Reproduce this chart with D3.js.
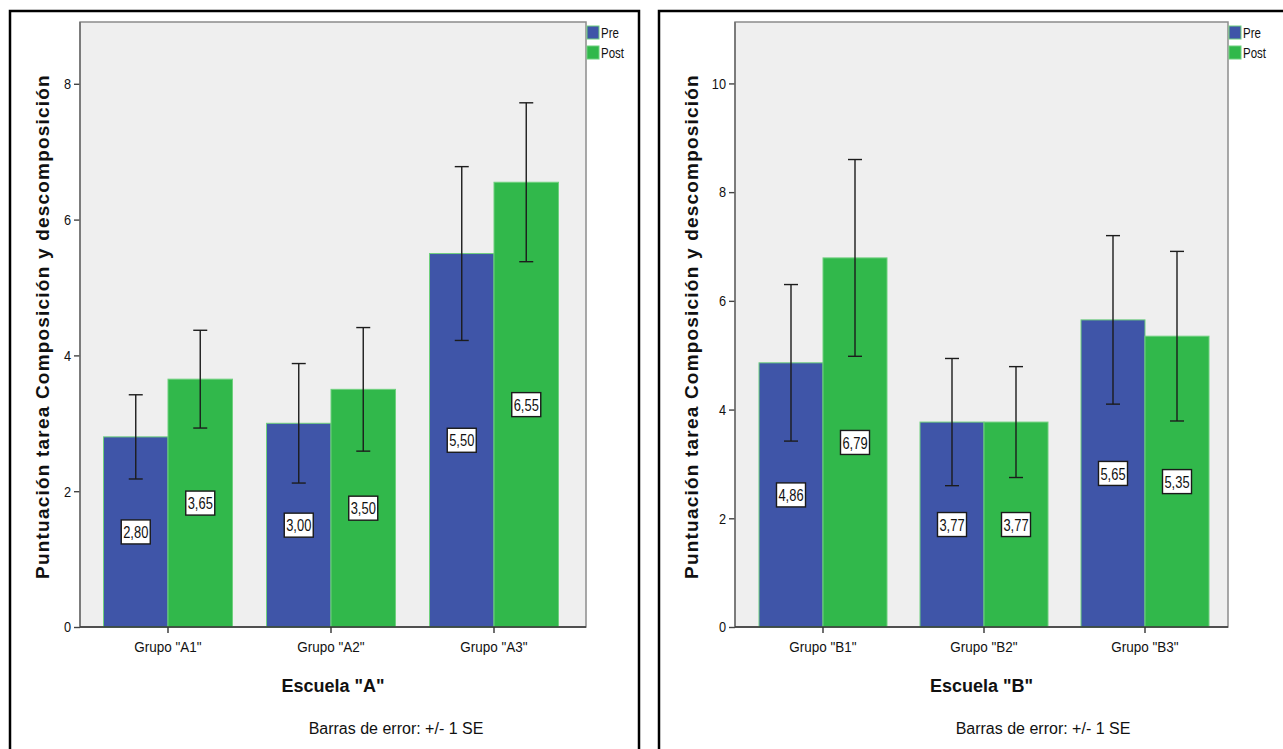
<!DOCTYPE html>
<html>
<head>
<meta charset="utf-8">
<script src="https://cdn.jsdelivr.net/npm/d3@7"></script>
<style>
  html, body { margin: 0; padding: 0; background: #ffffff; }
  svg { display: block; }
  text { font-family: "Liberation Sans", Arial, sans-serif; fill: #111; }
</style>
</head>
<body>
<svg id="chart" width="1283" height="749"></svg>
<script>
// ---- School A ----
const groupsA = ['Grupo "A1"', 'Grupo "A2"', 'Grupo "A3"'];
const preA = [2.80, 3.00, 5.50];
const postA = [3.65, 3.50, 6.55];
const preSeA = [0.62, 0.88, 1.28];
const postSeA = [0.72, 0.91, 1.17];
const ticksA = [0, 2, 4, 6, 8];

// ---- School B ----
const groupsB = ['Grupo "B1"', 'Grupo "B2"', 'Grupo "B3"'];
const preB = [4.86, 3.77, 5.65];
const postB = [6.79, 3.77, 5.35];
const preSeB = [1.44, 1.17, 1.55];
const postSeB = [1.81, 1.02, 1.56];
const ticksB = [0, 2, 4, 6, 8, 10];

const seriesNames = ["Pre", "Post"];
const seriesColors = ["#3f55a8", "#31b84b"];
const yTitle = "Puntuación tarea Composición y descomposición";
const footnote = "Barras de error: +/- 1 SE";

const svg = d3.select("#chart");
const fmt = v => d3.format(".2f")(v).replace(".", ",");

function drawPanel(p) {
  const g = svg.append("g");

  // outer frame of the panel
  g.append("rect")
    .attr("x", p.frame[0]).attr("y", p.frame[1])
    .attr("width", p.frame[2]).attr("height", p.frame[3])
    .attr("fill", "#fff").attr("stroke", "#000").attr("stroke-width", 2.5);

  const y = d3.scaleLinear().domain([0, p.yMax]).range([p.bottom, p.top]);
  const x0 = d3.scaleBand().domain(p.groups).range(p.bandRange)
    .paddingInner(0).paddingOuter(0);
  const x1 = d3.scaleBand().domain(seriesNames)
    .range([(x0.bandwidth() - p.pair) / 2, (x0.bandwidth() + p.pair) / 2]);

  // plot background
  g.append("rect")
    .attr("x", p.left).attr("y", p.top)
    .attr("width", p.right - p.left).attr("height", p.bottom - p.top)
    .attr("fill", "#efefef").attr("stroke", "#8c8c8c").attr("stroke-width", 1.5);

  const rows = p.groups.map((grp, i) => seriesNames.map((s, j) => ({
    grp, s, j,
    v: j === 0 ? p.pre[i] : p.post[i],
    se: j === 0 ? p.preSe[i] : p.postSe[i]
  }))).flat();

  // bars
  g.selectAll("rect.bar").data(rows).join("rect")
    .attr("class", "bar")
    .attr("x", d => x0(d.grp) + x1(d.s))
    .attr("width", x1.bandwidth())
    .attr("y", d => y(d.v))
    .attr("height", d => y(0) - y(d.v))
    .attr("fill", d => seriesColors[d.j])
    .attr("stroke", "#6fd07e").attr("stroke-width", 1);

  // error bars (+/- 1 SE)
  const eb = g.selectAll("g.err").data(rows).join("g").attr("class", "err")
    .attr("stroke", "#1c1c1c").attr("stroke-width", 1.4);
  const cx = d => x0(d.grp) + x1(d.s) + x1.bandwidth() / 2;
  eb.append("line")
    .attr("x1", cx).attr("x2", cx)
    .attr("y1", d => y(d.v + d.se)).attr("y2", d => y(d.v - d.se));
  eb.append("line")
    .attr("x1", d => cx(d) - 7).attr("x2", d => cx(d) + 7)
    .attr("y1", d => y(d.v + d.se)).attr("y2", d => y(d.v + d.se));
  eb.append("line")
    .attr("x1", d => cx(d) - 7).attr("x2", d => cx(d) + 7)
    .attr("y1", d => y(d.v - d.se)).attr("y2", d => y(d.v - d.se));

  // value labels in white boxes at mid-height of each bar
  const lab = g.selectAll("g.val").data(rows).join("g").attr("class", "val")
    .attr("transform", d => `translate(${cx(d)},${y(d.v / 2)})`);
  lab.append("rect")
    .attr("x", -14.5).attr("y", -12).attr("width", 29).attr("height", 24)
    .attr("fill", "#fff").attr("stroke", "#1a1a1a").attr("stroke-width", 1.4);
  lab.append("text")
    .attr("text-anchor", "middle").attr("dy", "0.36em")
    .attr("transform", "scale(0.76,1)")
    .style("font-size", "17px")
    .text(d => fmt(d.v));

  // y axis
  const yAxis = g.append("g").attr("transform", `translate(${p.left},0)`)
    .call(d3.axisLeft(y).tickValues(p.ticks).tickSize(6).tickSizeOuter(0)
      .tickPadding(2).tickFormat(d3.format("d")));
  yAxis.select(".domain").remove();
  yAxis.selectAll(".tick line").attr("stroke", "#444").attr("stroke-width", 1.4);
  yAxis.selectAll(".tick text")
    .attr("fill", "#222").style("font-size", "15px")
    .style("font-family", "'Liberation Sans', Arial, sans-serif")
    .attr("transform", "scale(0.85,1)")
    .attr("x", -9 / 0.85);
  g.append("line")
    .attr("x1", p.left).attr("x2", p.left).attr("y1", p.top).attr("y2", p.bottom)
    .attr("stroke", "#6e6e6e").attr("stroke-width", 1.5);

  // x axis
  const xAxis = g.append("g").attr("transform", `translate(0,${p.bottom})`)
    .call(d3.axisBottom(x0).tickSize(6).tickSizeOuter(0).tickPadding(8));
  xAxis.select(".domain").remove();
  xAxis.selectAll(".tick line").attr("stroke", "#333").attr("stroke-width", 1.4);
  xAxis.selectAll(".tick text")
    .attr("fill", "#222").style("font-size", "15px")
    .style("font-family", "'Liberation Sans', Arial, sans-serif")
    .attr("transform", "scale(0.9,1)")
    .attr("x", 0);
  g.append("line")
    .attr("x1", p.left).attr("x2", p.right).attr("y1", p.bottom).attr("y2", p.bottom)
    .attr("stroke", "#333").attr("stroke-width", 1.6);

  // axis titles
  g.append("text")
    .attr("transform", `translate(${p.yTitleX},${(p.top + p.bottom) / 2 + 2}) rotate(-90)`)
    .attr("text-anchor", "middle")
    .style("font-size", "19px").style("font-weight", "bold")
    .style("letter-spacing", "1.2px")
    .text(yTitle);

  g.append("text")
    .attr("x", (p.left + p.right) / 2).attr("y", 692)
    .attr("text-anchor", "middle")
    .style("font-size", "18px").style("font-weight", "bold")
    .text(p.xTitle);

  g.append("text")
    .attr("x", p.noteX).attr("y", 734)
    .attr("text-anchor", "middle")
    .style("font-size", "16px").attr("fill", "#222")
    .text(footnote);

  // legend
  const leg = g.append("g").attr("transform", `translate(${p.right + 1},26)`);
  seriesNames.forEach((s, j) => {
    leg.append("rect")
      .attr("x", 0).attr("y", j * 20).attr("width", 12).attr("height", 13)
      .attr("fill", seriesColors[j]).attr("stroke", "#6fd07e").attr("stroke-width", 1);
    leg.append("text")
      .attr("transform", `translate(14,${j * 20 + 11.5}) scale(0.82,1)`)
      .style("font-size", "14px").attr("fill", "#111")
      .text(s);
  });
}

drawPanel({
  frame: [10, 11, 629, 760],
  left: 80, right: 586, top: 22, bottom: 627, yMax: 8.91,
  bandRange: [86.5, 575.5], pair: 129,
  groups: groupsA, pre: preA, post: postA, preSe: preSeA, postSe: postSeA, ticks: ticksA,
  xTitle: 'Escuela "A"', yTitleX: 49, noteX: 396
});

drawPanel({
  frame: [659, 11, 660, 760],
  left: 735, right: 1228, top: 22, bottom: 627, yMax: 11.13,
  bandRange: [742.5, 1225.5], pair: 128,
  groups: groupsB, pre: preB, post: postB, preSe: preSeB, postSe: postSeB, ticks: ticksB,
  xTitle: 'Escuela "B"', yTitleX: 698, noteX: 1043
});
</script>
</body>
</html>
